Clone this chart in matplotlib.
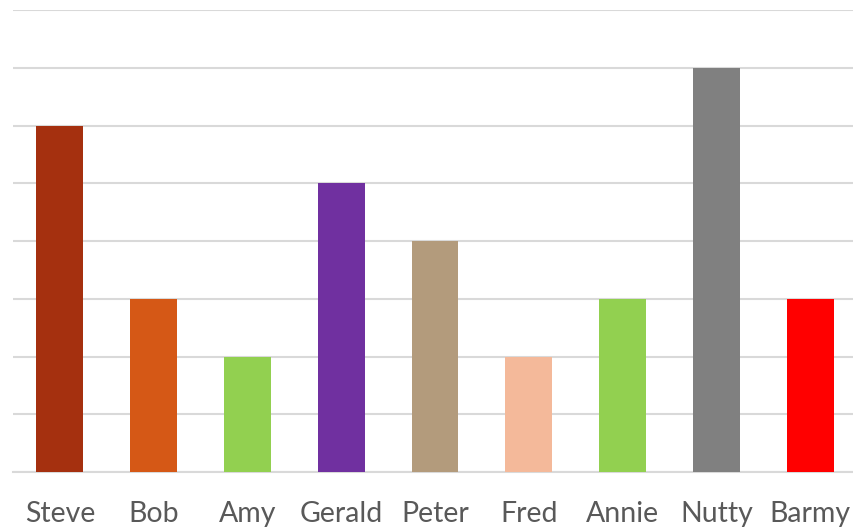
import matplotlib
matplotlib.use("Agg")
import matplotlib.pyplot as plt

# names and scores
names = ["Steve", "Bob", "Amy", "Gerald", "Peter", "Fred", "Annie", "Nutty", "Barmy"]
scores = [6, 3, 2, 5, 4, 2, 3, 7, 3]
colours = ["#A5300F", "#D55816", "#92D050", "#7030A0", "#B39B7C",
           "#F4B99A", "#92D050", "#808080", "#FF0000"]

plt.rcParams["font.family"] = ["Lato", "DejaVu Sans"]

fig = plt.figure(figsize=(8.54, 5.28), dpi=100)
ax = fig.add_axes([13 / 854, 1 - 472 / 528, 844 / 854, 462 / 528])

x = range(len(names))
ax.bar(x, scores, width=0.5, color=colours, zorder=3)

ax.set_xlim(-0.5, len(names) - 0.5)
ax.set_ylim(0, 8)
ax.set_yticks(range(0, 9))
ax.yaxis.grid(True, color="#D9D9D9", linewidth=1.5, zorder=0)
ax.set_axisbelow(True)

ax.set_xticks(list(x))
ax.set_xticklabels(names, fontsize=20.5, color="#595959")
ax.tick_params(axis="x", length=0, pad=21)
ax.tick_params(axis="y", length=0, labelleft=False)

for side in ["top", "left", "right"]:
    ax.spines[side].set_visible(False)
ax.spines["bottom"].set_color("#D9D9D9")
ax.spines["bottom"].set_linewidth(1.5)

fig.savefig("out.png", dpi=100)
